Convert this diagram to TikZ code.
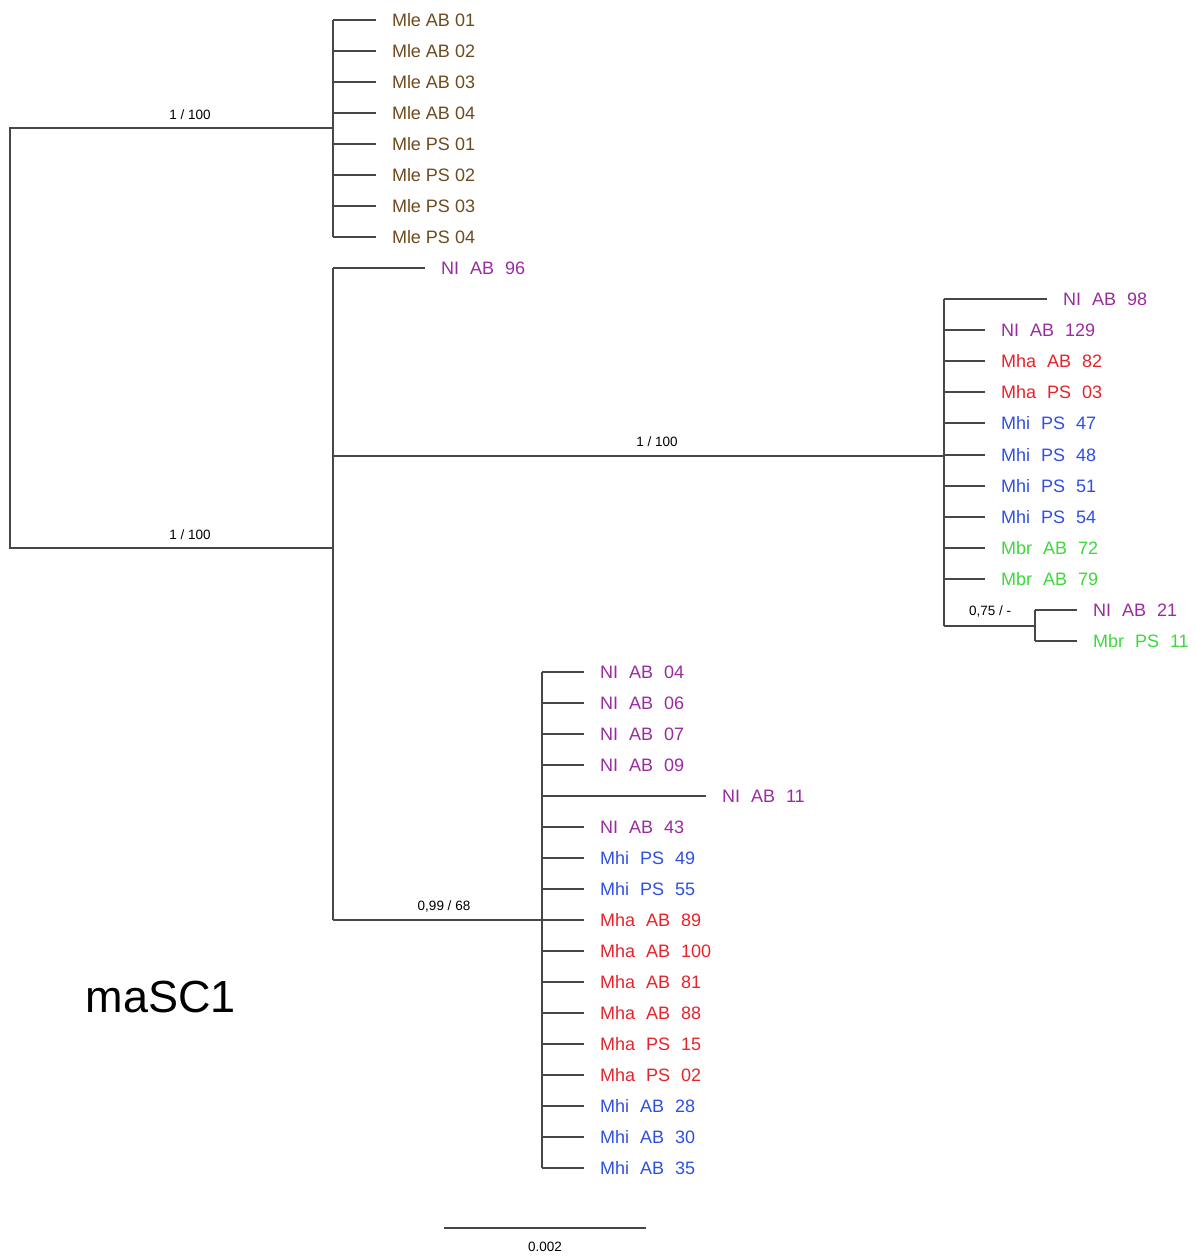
\documentclass[tikz,border=0pt]{standalone}
\usepackage{fontspec}
\setmainfont{Liberation Sans}
\definecolor{mle}{HTML}{6E4A1E}
\definecolor{nl}{HTML}{9A2AA0}
\definecolor{mha}{HTML}{E8222A}
\definecolor{mhi}{HTML}{2E4FE2}
\definecolor{mbr}{HTML}{3CD83C}
\definecolor{branch}{HTML}{474747}
% wide gap between the parts of a specimen code
\newcommand\lgap{\hspace{11pt}}
\begin{document}
\begin{tikzpicture}[x=1pt,y=-1pt,
  branchline/.style={draw=branch, line width=1.4pt, line cap=square},
  leaf/.style={anchor=west, inner sep=0pt, outer xsep=16pt,
    font=\fontsize{18}{18}\selectfont, text height=13pt, text depth=0pt},
  support/.style={inner sep=0pt, font=\fontsize{13.5}{13.5}\selectfont},
]
\useasboundingbox (0,0) rectangle (1195,1257);

% ---- internal nodes
\coordinate (rt) at (10,128);
\coordinate (rb) at (10,548);
\coordinate (a0) at (333,128);
\coordinate (aT) at (333,20);
\coordinate (aB) at (333,237);
\coordinate (b0) at (333,548);
\coordinate (bT) at (333,268);
\coordinate (bB) at (333,920);
\coordinate (bc) at (333,456);
\coordinate (c0) at (944,456);
\coordinate (cT) at (944,299);
\coordinate (cB) at (944,626);
\coordinate (d0) at (1035,626);
\coordinate (dT) at (1035,610);
\coordinate (dB) at (1035,641);
\coordinate (e0) at (542,920);
\coordinate (eT) at (542,672);
\coordinate (eB) at (542,1168);

% ---- backbone
\draw[branchline] (a0) -- (rt) -- (rb) -- (b0);
\draw[branchline] (aT) -- (aB);
\draw[branchline] (bT) -- (bB);
\draw[branchline] (bc) -- (c0);
\draw[branchline] (cT) -- (cB);
\draw[branchline] (cB) -- (d0);
\draw[branchline] (dT) -- (dB);
\draw[branchline] (bB) -- (e0);
\draw[branchline] (eT) -- (eB);

% ---- support values
\node[support] (s1) at (190,115) {1 / 100};
\node[support] (s2) at (190,535) {1 / 100};
\node[support] (s3) at (657,442) {1 / 100};
\node[support] (s4) at (444,906) {0,99 / 68};
\node[support] (s5) at (990,611) {0,75 / -};

% ---- Mle clade
\foreach \y/\t [count=\i] in {20/Mle AB 01, 51/Mle AB 02, 82/Mle AB 03,
    113/Mle AB 04, 144/Mle PS 01, 175/Mle PS 02, 206/Mle PS 03, 237/Mle PS 04} {
  \coordinate (av\i) at (333,\y);
  \node[leaf, text=mle] (al\i) at (376,\y) {\t};
  \draw[branchline] (av\i) -- (al\i.west);
}

% ---- single long branch
\node[leaf, text=nl] (nl96) at (425,268) {NI\lgap AB\lgap 96};
\draw[branchline] (bT) -- (nl96.west);

% ---- right clade
\coordinate (cv1) at (944,299);
\node[leaf, text=nl] (cl1) at (1047,299) {NI\lgap AB\lgap 98};
\draw[branchline] (cv1) -- (cl1.west);
\foreach \y/\t/\c [count=\i from 2] in {
    330/NI\lgap AB\lgap 129/nl, 361/Mha\lgap AB\lgap 82/mha,
    392/Mha\lgap PS\lgap 03/mha, 423/Mhi\lgap PS\lgap 47/mhi,
    455/Mhi\lgap PS\lgap 48/mhi, 486/Mhi\lgap PS\lgap 51/mhi,
    517/Mhi\lgap PS\lgap 54/mhi, 548/Mbr\lgap AB\lgap 72/mbr,
    579/Mbr\lgap AB\lgap 79/mbr} {
  \coordinate (cv\i) at (944,\y);
  \node[leaf, text=\c] (cl\i) at (985,\y) {\t};
  \draw[branchline] (cv\i) -- (cl\i.west);
}
\node[leaf, text=nl] (dl1) at (1077,610) {NI\lgap AB\lgap 21};
\node[leaf, text=mbr] (dl2) at (1077,641) {Mbr\lgap PS\lgap 11};
\draw[branchline] (dT) -- (dl1.west);
\draw[branchline] (dB) -- (dl2.west);

% ---- lower clade
\foreach \y/\t/\c/\ex [count=\i] in {
    672/NI\lgap AB\lgap 04/nl/584, 703/NI\lgap AB\lgap 06/nl/584,
    734/NI\lgap AB\lgap 07/nl/584, 765/NI\lgap AB\lgap 09/nl/584,
    796/NI\lgap AB\lgap 11/nl/706, 827/NI\lgap AB\lgap 43/nl/584,
    858/Mhi\lgap PS\lgap 49/mhi/584, 889/Mhi\lgap PS\lgap 55/mhi/584,
    920/Mha\lgap AB\lgap 89/mha/584, 951/Mha\lgap AB\lgap 100/mha/584,
    982/Mha\lgap AB\lgap 81/mha/584, 1013/Mha\lgap AB\lgap 88/mha/584,
    1044/Mha\lgap PS\lgap 15/mha/584, 1075/Mha\lgap PS\lgap 02/mha/584,
    1106/Mhi\lgap AB\lgap 28/mhi/584, 1137/Mhi\lgap AB\lgap 30/mhi/584,
    1168/Mhi\lgap AB\lgap 35/mhi/584} {
  \coordinate (ev\i) at (542,\y);
  \node[leaf, text=\c] (el\i) at (\ex,\y) {\t};
  \draw[branchline] (ev\i) -- (el\i.west);
}

% ---- clade name
\node[inner sep=0pt, font=\fontsize{45}{45}\selectfont] (name) at (161,997) {maSC1};

% ---- scale bar
\coordinate (sbL) at (444,1228);
\coordinate (sbR) at (646,1228);
\draw[draw=branch, line width=1.4pt] (sbL) -- (sbR);
\node[support] (sbt) at (545,1247) {0.002};
\end{tikzpicture}
\end{document}
